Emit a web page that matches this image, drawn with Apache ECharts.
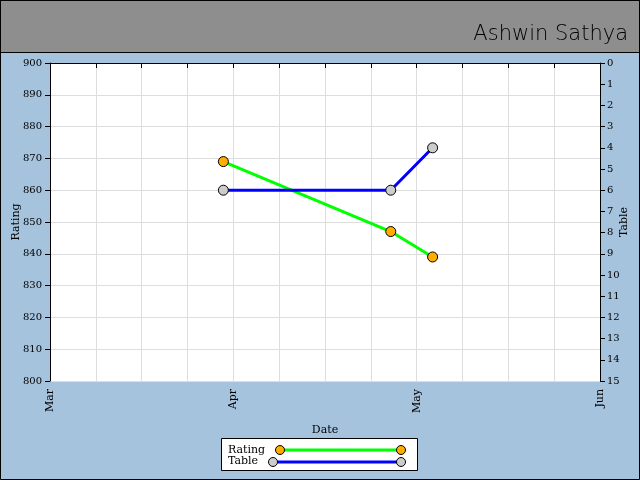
<!DOCTYPE html>
<html><head><meta charset="utf-8">
<script src="https://cdn.jsdelivr.net/npm/echarts@6/dist/echarts.min.js"></script>
<style>html,body{margin:0;padding:0;background:#a6c3dd}#c{width:640px;height:480px}</style>
</head><body><div id="c"></div>
<script>
const dates = ['2024-03-30', '2024-04-27', '2024-05-04'];
const ratingValues = [869, 847, 839];
const tableValues = [6, 6, 4];
const monthLabels = ['Mar', 'Apr', 'May', 'Jun'];
const startDate = '2024-03-01';
const endDate = '2024-06-01';

const DAY = 86400000;
const t0 = Date.parse(startDate);
const spanDays = (Date.parse(endDate) - t0) / DAY;
const toDay = d => (Date.parse(d) - t0) / DAY;
const ratingData = dates.map((d, i) => [toDay(d), ratingValues[i]]);
const tableData = dates.map((d, i) => [toDay(d), tableValues[i]]);

const font = 'DejaVu Serif';
const chart = echarts.init(document.getElementById('c'), null, {renderer: 'canvas'});
chart.setOption({
  backgroundColor: '#a6c3dd',
  animation: false,
  grid: {left: 50, right: 40, top: 63, bottom: 99, show: true, backgroundColor: '#ffffff', borderWidth: 0,
         containLabel: false, outerBoundsMode: 'none'},
  xAxis: {
    type: 'value', min: 0, max: spanDays, interval: spanDays / 12,
    name: 'Date', nameLocation: 'middle', nameGap: 44, nameMoveOverlap: false,
    nameTextStyle: {fontFamily: font, fontSize: 11, color: '#000'},
    axisLine: {lineStyle: {color: '#000', width: 1}},
    axisTick: {length: 5, lineStyle: {color: '#000'}},
    axisLabel: {
      rotate: 90, margin: 8, fontFamily: font, fontSize: 11, color: '#000',
      formatter: (v, i) => (i % 4 === 0 ? monthLabels[i / 4] : '')
    },
    splitLine: {show: true, lineStyle: {color: '#dddddd'}}
  },
  yAxis: [
    {
      type: 'value', min: 800, max: 900, interval: 10, position: 'left',
      name: 'Rating', nameLocation: 'middle', nameGap: 28, nameRotate: 90, nameMoveOverlap: false,
      nameTextStyle: {fontFamily: font, fontSize: 11, color: '#000'},
      axisLine: {show: true, lineStyle: {color: '#000'}},
      axisTick: {show: true, length: 5, lineStyle: {color: '#000'}},
      axisLabel: {fontFamily: font, fontSize: 10, color: '#000', margin: 8},
      splitLine: {show: true, lineStyle: {color: '#dddddd'}}
    },
    {
      type: 'value', min: 0, max: 15, interval: 1, position: 'right', inverse: true,
      name: 'Table', nameLocation: 'middle', nameGap: 19, nameRotate: 90, nameMoveOverlap: false,
      nameTextStyle: {fontFamily: font, fontSize: 11, color: '#000'},
      axisLine: {show: true, lineStyle: {color: '#000'}},
      axisTick: {show: true, length: 5, lineStyle: {color: '#000'}},
      axisLabel: {fontFamily: font, fontSize: 10, color: '#000', margin: 7},
      splitLine: {show: false}
    }
  ],
  series: [
    {
      name: 'Rating', type: 'line', yAxisIndex: 0, data: ratingData,
      lineStyle: {color: '#00ff00', width: 3},
      symbol: 'circle', symbolSize: 10,
      itemStyle: {color: '#ffad00', borderColor: '#000', borderWidth: 1}
    },
    {
      name: 'Table', type: 'line', yAxisIndex: 1, data: tableData,
      lineStyle: {color: '#0000ff', width: 3},
      symbol: 'circle', symbolSize: 10,
      itemStyle: {color: '#cccccc', borderColor: '#000', borderWidth: 1}
    }
  ],
  graphic: [
    {type: 'rect', shape: {x: 0.5, y: 0.5, width: 639, height: 479}, style: {fill: 'none', stroke: '#000', lineWidth: 1}, z: 100},
    {type: 'rect', shape: {x: 0.5, y: 0.5, width: 639, height: 52}, style: {fill: '#8e8e8e', stroke: '#000', lineWidth: 1}, z: 90},
    {type: 'text', right: 12, top: 24, z: 95, style: {text: 'Ashwin Sathya', font: '200 21px "DejaVu Sans ExtraLight", "DejaVu Sans"', fill: '#000'}},
    {type: 'rect', shape: {x: 221.5, y: 438.5, width: 196, height: 32}, style: {fill: '#fff', stroke: '#000', lineWidth: 1}, z: 90},
    {type: 'text', x: 228, y: 445, z: 95, style: {text: 'Rating', font: '11px "DejaVu Serif"', fill: '#000'}},
    {type: 'text', x: 228, y: 456, z: 95, style: {text: 'Table', font: '11px "DejaVu Serif"', fill: '#000'}},
    {type: 'line', shape: {x1: 280, y1: 450, x2: 401, y2: 450}, style: {stroke: '#00ff00', lineWidth: 3}, z: 95},
    {type: 'line', shape: {x1: 273, y1: 462, x2: 401, y2: 462}, style: {stroke: '#0000ff', lineWidth: 3}, z: 95},
    {type: 'circle', shape: {cx: 280, cy: 450, r: 4.5}, style: {fill: '#ffad00', stroke: '#000'}, z: 96},
    {type: 'circle', shape: {cx: 401, cy: 450, r: 4.5}, style: {fill: '#ffad00', stroke: '#000'}, z: 96},
    {type: 'circle', shape: {cx: 273, cy: 462, r: 4.5}, style: {fill: '#cccccc', stroke: '#000'}, z: 96},
    {type: 'circle', shape: {cx: 401, cy: 462, r: 4.5}, style: {fill: '#cccccc', stroke: '#000'}, z: 96}
  ]
});
</script></body></html>
